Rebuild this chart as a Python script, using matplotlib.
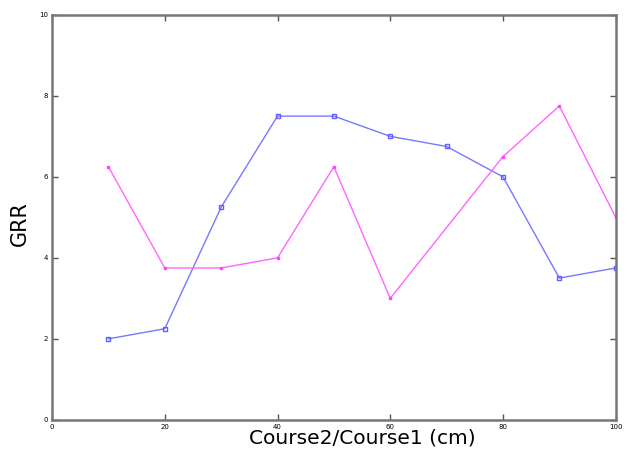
import matplotlib
matplotlib.use("Agg")
import matplotlib.pyplot as plt

# data
x_blue = [10, 20, 30, 40, 50, 60, 70, 80, 90, 100]
y_blue = [2.0, 2.25, 5.25, 7.5, 7.5, 7.0, 6.75, 6.0, 3.5, 3.75]
x_pink = [10, 20, 30, 40, 50, 60, 80, 90, 100]
y_pink = [6.25, 3.75, 3.75, 4.0, 6.25, 3.0, 6.5, 7.75, 5.0]
xticks = [0, 20, 40, 60, 80, 100]
yticks = [0, 2, 4, 6, 8, 10]

fig = plt.figure(figsize=(6.27, 4.5), dpi=100)
ax = fig.add_axes([0.083, 0.067, 0.899, 0.9])

ax.plot(x_blue, y_blue, color='#7878ff', lw=1, marker='s', ms=3, mfc='none', mec='#6060ff', mew=1)
ax.plot(x_pink, y_pink, color='#ff66ff', lw=1, marker='s', ms=2, mfc='#ff44ff', mec='#ff44ff')

ax.set_xlim(0, 100)
ax.set_ylim(0, 10)
ax.set_xticks(xticks)
ax.set_yticks(yticks)
ax.tick_params(direction='in', top=True, right=True, length=4, width=1, color='#555555', labelsize=5, pad=3)
for s in ax.spines.values():
    s.set_color('#777777')
    s.set_linewidth(1.8)

ax.set_xlabel('Course2/Course1 (cm)', fontsize=14.5)
ax.set_ylabel('GRR', fontsize=15)
ax.xaxis.set_label_coords(0.55, -0.022)
ax.yaxis.set_label_coords(-0.04, 0.484)

plt.savefig('out.png', dpi=100)
